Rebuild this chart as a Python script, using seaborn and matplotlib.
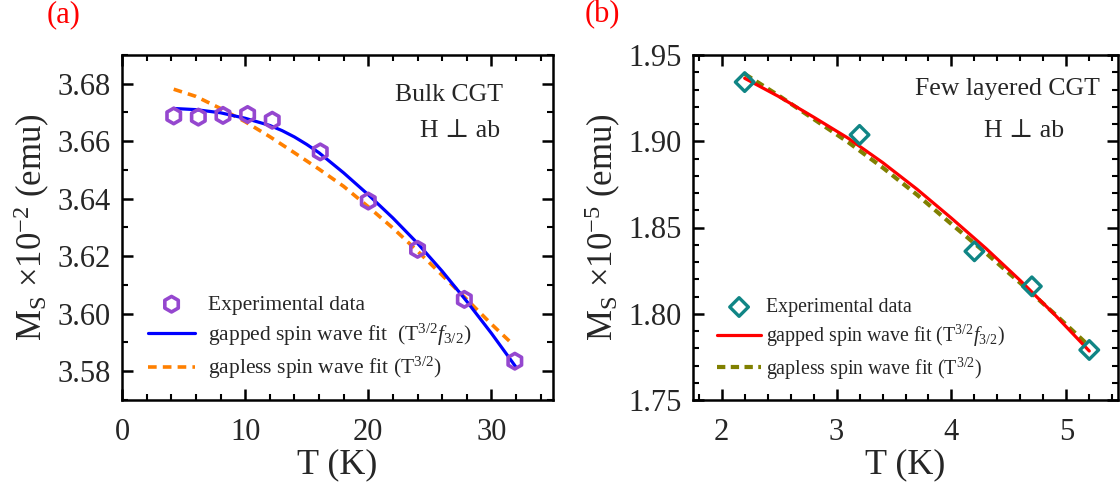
import numpy as np
import pandas as pd
import seaborn as sns
import matplotlib
matplotlib.use("Agg")
import matplotlib.pyplot as plt
from matplotlib.ticker import MultipleLocator, FormatStrFormatter

# ---------------- data: panel (a) Bulk CGT ----------------
a_T_exp = [4.2, 6.2, 8.2, 10.2, 12.2, 16.1, 20.0, 24.0, 27.8, 31.9]
a_M_exp = [3.6688, 3.6684, 3.6690, 3.6693, 3.6673, 3.6563, 3.6392, 3.6224, 3.6050, 3.5835]

a_T_gapped = [4.2, 6, 8, 10, 12, 13, 14, 15, 16, 18, 20, 22, 24, 26, 28, 30, 32]
a_M_gapped = [3.6714, 3.6710, 3.6699, 3.6680, 3.6655, 3.6637, 3.6615, 3.6589, 3.6560,
              3.6490, 3.6414, 3.6333, 3.6245, 3.6148, 3.6043, 3.5932, 3.5814]

a_T_gapless = [4.2, 6, 8, 10, 12, 14, 16, 18, 20, 22, 24, 26, 28, 30, 31.8]
a_M_gapless = [3.6781, 3.6756, 3.6714, 3.6668, 3.6616, 3.6560, 3.6503, 3.6443, 3.6372,
               3.6298, 3.6218, 3.6134, 3.6050, 3.5964, 3.5891]

# ---------------- data: panel (b) Few layered CGT ----------------
b_T_exp = [2.2, 3.2, 4.2, 4.7, 5.2]
b_M_exp = [1.9343, 1.9037, 1.8362, 1.8159, 1.7790]

b_T_gapped = [2.2, 2.5, 2.8, 3.1, 3.4, 3.7, 4.0, 4.3, 4.6, 4.9, 5.2]
b_M_gapped = [1.9365, 1.9258, 1.9140, 1.9018, 1.8877, 1.8722, 1.8554, 1.8379, 1.8192, 1.7994, 1.7784]

b_T_gapless = [2.2, 2.5, 2.8, 3.1, 3.4, 3.7, 4.0, 4.3, 4.6, 4.9, 5.2]
b_M_gapless = [1.9390, 1.9263, 1.9129, 1.8995, 1.8848, 1.8690, 1.8520, 1.8352, 1.8178, 1.7998, 1.7812]

lbl_exp = "Experimental data"
lbl_gapped_a = r"gapped spin wave fit  (T$^{3/2}$$f_{3/2}$)"
lbl_gapped_b = r"gapped spin wave fit (T$^{3/2}$$f_{3/2}$)"
lbl_gapless = r"gapless spin wave fit (T$^{3/2}$)"

# ---------------- style ----------------
sns.set_theme(style="ticks")
serif = ["Liberation Serif", "DejaVu Serif"]
plt.rcParams["font.family"] = serif
plt.rcParams["mathtext.fontset"] = "custom"
plt.rcParams["mathtext.rm"] = "Liberation Serif"
plt.rcParams["mathtext.it"] = "Liberation Serif:italic"
plt.rcParams["mathtext.bf"] = "Liberation Serif:bold"
plt.rcParams["axes.linewidth"] = 1.8

fig = plt.figure(figsize=(11.2, 4.88), dpi=100)
W, H = 1120, 488
def axrect(l, r, t, b):
    return [l / W, 1 - b / H, (r - l) / W, (b - t) / H]

axA = fig.add_axes(axrect(122, 553, 55, 400))
axB = fig.add_axes(axrect(693, 1118, 55, 400))


def style_axes(ax, xmaj, xmin, ymaj, ymin):
    ax.xaxis.set_major_locator(MultipleLocator(xmaj))
    ax.xaxis.set_minor_locator(MultipleLocator(xmin))
    ax.yaxis.set_major_locator(MultipleLocator(ymaj))
    ax.yaxis.set_minor_locator(MultipleLocator(ymin))
    ax.yaxis.set_major_formatter(FormatStrFormatter("%.2f"))
    ax.tick_params(which="both", direction="in", top=True, right=True, color="black")
    ax.tick_params(which="major", length=8, width=1.8, labelsize=22)
    ax.tick_params(which="minor", length=4.5, width=1.5)
    ax.tick_params(axis="x", which="major", pad=13)
    ax.tick_params(axis="y", which="major", pad=8)
    for s in ax.spines.values():
        s.set_visible(True)
        s.set_color("black")
        s.set_linewidth(1.8)


# ---------------- panel (a) ----------------
dfa_exp = pd.DataFrame({"T": a_T_exp, "M": a_M_exp})
dfa_g = pd.DataFrame({"T": a_T_gapped, "M": a_M_gapped})
dfa_l = pd.DataFrame({"T": a_T_gapless, "M": a_M_gapless})

sns.lineplot(data=dfa_g, x="T", y="M", ax=axA, color="#0000ff", lw=2.3,
             label=lbl_gapped_a, sort=True, zorder=3)
sns.lineplot(data=dfa_l, x="T", y="M", ax=axA, color="#ff8000", lw=2.6,
             label=lbl_gapless, sort=True, zorder=2)
axA.lines[-1].set_dashes((2.4, 1.7))
axA.lines[-1].set_dash_capstyle("butt")
sns.scatterplot(data=dfa_exp, x="T", y="M", ax=axA, marker="h", s=125,
                facecolors="none", edgecolor="#9547cf", linewidth=2.6,
                label=lbl_exp, zorder=4)

axA.set_xlim(0, 35)
axA.set_ylim(3.57, 3.69)
style_axes(axA, 10, 2, 0.02, 0.01)
axA.set_xlabel("T (K)", fontsize=26, labelpad=1)
axA.set_ylabel(r"M$_\mathregular{S}$ ×10$^{-2}$ (emu)", fontsize=25, labelpad=4)

axA.text(0.885, 0.885, "Bulk CGT", transform=axA.transAxes, ha="right", va="center",
         fontsize=18.5, family=serif)
axA.text(0.785, 0.78, "H ⊥ ab", transform=axA.transAxes, ha="center", va="center",
         fontsize=18.5, family=serif)

h, l = axA.get_legend_handles_labels()
order = [l.index(lbl_exp), l.index(lbl_gapped_a), l.index(lbl_gapless)]
axA.legend([h[i] for i in order], [l[i] for i in order], loc="upper left",
           bbox_to_anchor=(0.06, 0.305), frameon=False, fontsize=15.5,
           handlelength=2.2, handletextpad=0.6, labelspacing=0.33, borderpad=0,
           borderaxespad=0)

# ---------------- panel (b) ----------------
dfb_exp = pd.DataFrame({"T": b_T_exp, "M": b_M_exp})
dfb_g = pd.DataFrame({"T": b_T_gapped, "M": b_M_gapped})
dfb_l = pd.DataFrame({"T": b_T_gapless, "M": b_M_gapless})

sns.lineplot(data=dfb_l, x="T", y="M", ax=axB, color="#808000", lw=3.0,
             label=lbl_gapless, sort=True, zorder=2)
axB.lines[-1].set_dashes((2.0, 1.3))
axB.lines[-1].set_dash_capstyle("butt")
sns.scatterplot(data=dfb_exp, x="T", y="M", ax=axB, marker="D", s=90,
                facecolors="none", edgecolor="#108585", linewidth=2.4,
                label=lbl_exp, zorder=4)
sns.lineplot(data=dfb_g, x="T", y="M", ax=axB, color="#ff0000", lw=2.3,
             label=lbl_gapped_b, sort=True, zorder=3)

axB.set_xlim(1.75, 5.45)
axB.set_ylim(1.75, 1.95)
style_axes(axB, 1, 0.2, 0.05, 0.01)
axB.set_xlabel("T (K)", fontsize=26, labelpad=1)
axB.set_ylabel(r"M$_\mathregular{S}$ ×10$^{-5}$ (emu)", fontsize=25, labelpad=4)

axB.text(0.957, 0.9, "Few layered CGT", transform=axB.transAxes, ha="right", va="center",
         fontsize=18.5, family=serif)
axB.text(0.78, 0.78, "H ⊥ ab", transform=axB.transAxes, ha="center", va="center",
         fontsize=18.5, family=serif)

h, l = axB.get_legend_handles_labels()
order = [l.index(lbl_exp), l.index(lbl_gapped_b), l.index(lbl_gapless)]
axB.legend([h[i] for i in order], [l[i] for i in order], loc="upper left",
           bbox_to_anchor=(0.057, 0.295), frameon=False, fontsize=14.3,
           handlelength=2.2, handletextpad=0.25, labelspacing=0.3, borderpad=0,
           borderaxespad=0)

# panel labels
fig.text(47 / W, 1 - 22 / H, "(a)", color="#ff0000", fontsize=22, family=serif,
         ha="left", va="baseline")
fig.text(585 / W, 1 - 22 / H, "(b)", color="#ff0000", fontsize=22, family=serif,
         ha="left", va="baseline")

fig.savefig("out.png", dpi=100)
